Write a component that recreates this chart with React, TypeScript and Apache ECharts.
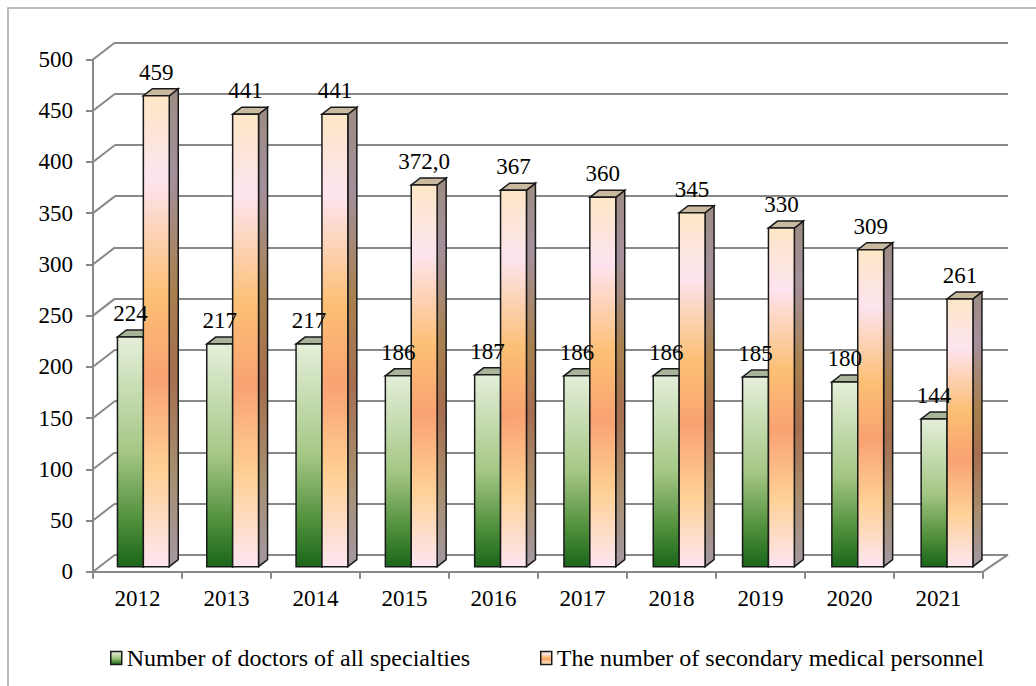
import React, { useEffect, useRef } from "react";
import * as echarts from "echarts";

const years = ["2012", "2013", "2014", "2015", "2016", "2017", "2018", "2019", "2020", "2021"];
const doctors = [224, 217, 217, 186, 187, 186, 186, 185, 180, 144];
const nurses = [459, 441, 441, 372, 367, 360, 345, 330, 309, 261];
const doctorLabels = ["224", "217", "217", "186", "187", "186", "186", "185", "180", "144"];
const nurseLabels = ["459", "441", "441", "372,0", "367", "360", "345", "330", "309", "261"];
const yTicks = [0, 50, 100, 150, 200, 250, 300, 350, 400, 450, 500];
const seriesNames = ["Number of doctors of all specialties", "The number of secondary medical personnel"];

const FONT = "'Liberation Serif', 'Times New Roman', Times, 'DejaVu Serif', serif";
const AXIS_COLOR = "#888888";

const lg = (stops: [number, string][]) =>
  new echarts.graphic.LinearGradient(0, 0, 0, 1, stops.map(([offset, color]) => ({ offset, color })));

const greenFront = () =>
  lg([
    [0, "#e4efd9"],
    [0.5, "#a5c785"],
    [0.8, "#4f8f3a"],
    [1, "#1a661a"],
  ]);
const greenSide = () =>
  lg([
    [0, "#8a9a80"],
    [0.5, "#5f7f4a"],
    [1, "#1a4a1a"],
  ]);
const orangeFront = () =>
  lg([
    [0, "#fde7c6"],
    [0.18, "#fde4ef"],
    [0.42, "#fcbf74"],
    [0.6, "#f9a272"],
    [0.8, "#fed196"],
    [1, "#fde6f0"],
  ]);
const orangeSide = () =>
  lg([
    [0, "#9c8c82"],
    [0.18, "#a4909c"],
    [0.42, "#a8804e"],
    [0.6, "#a56e50"],
    [0.8, "#a68e6e"],
    [1, "#a498a2"],
  ]);

const DX = 9;
const DY = -7;
const WDX = 22;
const WDY = -17;

function barRenderer(sIdx: number, labels: string[]) {
  return (params: any, api: any) => {
    const i = api.value(0);
    const v = api.value(1);
    const top = api.coord([i, v]);
    const base = api.coord([i, 0]);
    const cw = api.size([1, 0])[0];
    const bw = cw * 0.29;
    const x0 = sIdx === 0 ? top[0] - bw : top[0];
    const yt = top[1];
    const yb = base[1];
    const stroke = "#1a1a1a";
    const lw = 1.5;
    return {
      type: "group",
      children: [
        {
          type: "polygon",
          shape: {
            points: [
              [x0 + bw, yt],
              [x0 + bw + DX, yt + DY],
              [x0 + bw + DX, yb + DY],
              [x0 + bw, yb],
            ],
          },
          style: { fill: sIdx === 0 ? greenSide() : orangeSide(), stroke, lineWidth: lw },
        },
        {
          type: "polygon",
          shape: {
            points: [
              [x0, yt],
              [x0 + bw, yt],
              [x0 + bw + DX, yt + DY],
              [x0 + DX, yt + DY],
            ],
          },
          style: { fill: sIdx === 0 ? "#a9b59b" : "#c9b99e", stroke, lineWidth: lw },
        },
        {
          type: "rect",
          shape: { x: x0, y: yt, width: bw, height: yb - yt },
          style: { fill: sIdx === 0 ? greenFront() : orangeFront(), stroke, lineWidth: lw },
        },
        {
          type: "text",
          z2: 100,
          style: {
            text: labels[i],
            x: x0 + bw / 2,
            y: yt - 12,
            fill: "#000",
            fontSize: 23,
            fontFamily: FONT,
            textAlign: "center",
            align: "center",
            textVerticalAlign: "bottom",
            verticalAlign: "bottom",
          },
        },
      ],
    };
  };
}

function wallRenderer(params: any, api: any) {
  const v = api.value(0);
  const cs = params.coordSys;
  const y = api.coord([0, v])[1];
  const children: any[] = [
    {
      type: "line",
      shape: { x1: cs.x, y1: y, x2: cs.x + WDX, y2: y + WDY },
      style: { stroke: AXIS_COLOR, lineWidth: 2 },
    },
  ];
  if (v === 0) {
    children.push({
      type: "line",
      shape: { x1: cs.x + cs.width, y1: y, x2: cs.x + cs.width + WDX + 3, y2: y + WDY },
      style: { stroke: AXIS_COLOR, lineWidth: 2 },
    });
  }
  return { type: "group", children };
}

export default function App() {
  const ref = useRef<HTMLDivElement>(null);
  useEffect(() => {
    if (!ref.current) return;
    const chart = echarts.init(ref.current, null, { renderer: "svg" });
    const option: any = {
      animation: false,
      backgroundColor: "#ffffff",
      textStyle: { fontFamily: FONT },
      graphic: [
        {
          type: "rect",
          silent: true,
          shape: { x: 8, y: 8, width: 1100, height: 800 },
          style: { fill: "none", stroke: "#a6a6a6", lineWidth: 1.5 },
        },
      ],
      grid: [
        { left: 98.7, right: 44.3, top: 53.7, bottom: 119.3, containLabel: false },
        { left: 93, right: 53, top: 59.5, bottom: 114.3, containLabel: false },
        { left: 115, right: 28, top: 42.3, bottom: 131, containLabel: false },
      ],
      xAxis: [
        { type: "category", gridIndex: 0, data: years, show: false },
        {
          type: "category",
          gridIndex: 1,
          data: years,
          boundaryGap: true,
          axisLine: { show: true, lineStyle: { color: AXIS_COLOR, width: 2 } },
          axisTick: { show: true, interval: 0, length: 7, lineStyle: { color: AXIS_COLOR, width: 2 } },
          axisLabel: { show: true, margin: 15, color: "#000", fontSize: 23, fontFamily: FONT, interval: 0 },
          splitLine: { show: false },
        },
        { type: "category", gridIndex: 2, data: years, show: false },
      ],
      yAxis: [
        { type: "value", gridIndex: 0, min: 0, max: 500, interval: 50, show: false },
        {
          type: "value",
          gridIndex: 1,
          min: 0,
          max: 500,
          interval: 50,
          axisLine: { show: true, lineStyle: { color: AXIS_COLOR, width: 2 } },
          axisTick: { show: true, length: 7, lineStyle: { color: AXIS_COLOR, width: 2 } },
          axisLabel: { show: true, margin: 20, color: "#000", fontSize: 23, fontFamily: FONT },
          splitLine: { show: false },
        },
        {
          type: "value",
          gridIndex: 2,
          min: 0,
          max: 500,
          interval: 50,
          axisLine: { show: false },
          axisTick: { show: false },
          axisLabel: { show: false },
          splitLine: { show: true, lineStyle: { color: AXIS_COLOR, width: 2 } },
        },
      ],
      legend: {
        left: 105,
        top: 641,
        itemWidth: 11,
        itemHeight: 13,
        itemGap: 70,
        icon: "rect",
        textStyle: { fontSize: 24, fontFamily: FONT, color: "#000" },
        data: [
          { name: seriesNames[0], itemStyle: { color: greenFront(), borderColor: "#1a1a1a", borderWidth: 1.5 } },
          { name: seriesNames[1], itemStyle: { color: orangeFront(), borderColor: "#1a1a1a", borderWidth: 1.5 } },
        ],
      },
      series: [
        {
          type: "custom",
          name: "walls",
          xAxisIndex: 1,
          yAxisIndex: 1,
          silent: true,
          z: 1,
          data: yTicks.map((t) => [t]),
          encode: { y: 0 },
          renderItem: wallRenderer,
        },
        {
          type: "custom",
          name: seriesNames[0],
          xAxisIndex: 0,
          yAxisIndex: 0,
          itemStyle: { color: "#8fbf6f" },
          data: doctors.map((v, i) => [i, v]),
          encode: { x: 0, y: 1 },
          renderItem: barRenderer(0, doctorLabels),
        },
        {
          type: "custom",
          name: seriesNames[1],
          xAxisIndex: 0,
          yAxisIndex: 0,
          itemStyle: { color: "#fbbf7f" },
          data: nurses.map((v, i) => [i, v]),
          encode: { x: 0, y: 1 },
          renderItem: barRenderer(1, nurseLabels),
        },
      ],
    };
    chart.setOption(option);
    return () => chart.dispose();
  }, []);
  return (
    <div
      ref={ref}
      style={{ position: "fixed", left: 0, top: 0, width: 1036, height: 686, background: "#fff" }}
    />
  );
}
